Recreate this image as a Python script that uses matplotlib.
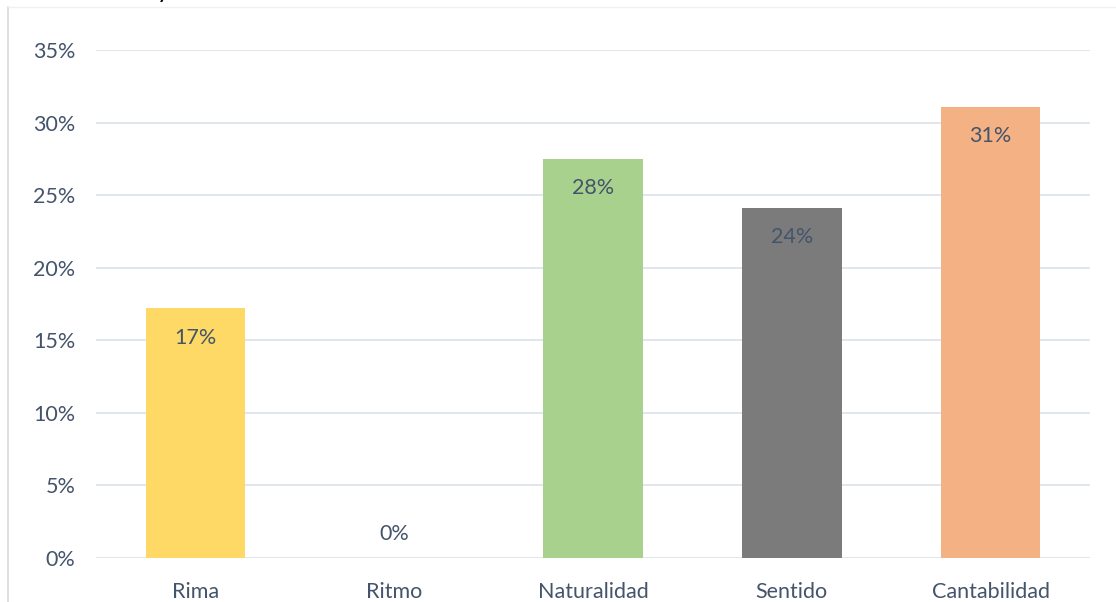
import numpy as np
import matplotlib.pyplot as plt
from matplotlib.lines import Line2D

# Datos
categorias = ["Rima", "Ritmo", "Naturalidad", "Sentido", "Cantabilidad"]
valores = [0.172, 0.0, 0.275, 0.241, 0.3105]
colores = ["#FFD966", "#FFD966", "#A9D18E", "#7B7B7B", "#F4B183"]
etiquetas_y = ["0%", "5%", "10%", "15%", "20%", "25%", "30%", "35%"]

texto = "#44546A"
tam = 15.5
plt.rcParams['font.family'] = ['Lato', 'DejaVu Sans']

fig = plt.figure(figsize=(11.16, 6.02), dpi=100)
ax = fig.add_axes([96 / 1116, 1 - 558 / 602, 994 / 1116, 508 / 602])

x = np.arange(len(categorias))
ax.bar(x, valores, width=0.5, color=colores, zorder=2)

for xi, v in zip(x, valores):
    dy = -21 if v > 0 else 17
    ax.annotate(f"{v:.0%}", (xi, v), xytext=(0, dy), textcoords="offset points",
                ha="center", va="center", fontsize=tam, color=texto)

ax.set_xlim(-0.5, len(categorias) - 0.5)
ax.set_ylim(0, 0.35)
ax.set_yticks(np.arange(0, 0.351, 0.05))
ax.set_yticklabels(etiquetas_y)
ax.set_xticks(x)
ax.set_xticklabels(categorias)
ax.tick_params(axis="both", length=0, labelsize=tam, labelcolor=texto)
ax.tick_params(axis="y", pad=15)
ax.tick_params(axis="x", pad=17)
ax.grid(axis="y", color="#DEE3EA", linewidth=1.3, zorder=0)
for s in ax.spines.values():
    s.set_visible(False)

# borde del área del gráfico (parcial)
fig.add_artist(Line2D([8 / 1116, 8 / 1116], [0, 1 - 7 / 602], color="#D9D9D9", linewidth=1.2))
fig.add_artist(Line2D([8 / 1116, 1], [1 - 7 / 602, 1 - 7 / 602], color="#F0F0F0", linewidth=1))
# resto del título recortado
fig.text(163 / 1116, 1 + 9 / 602, "y", fontsize=18, color="black", ha="center", va="center")

fig.savefig("out.png", dpi=100)
